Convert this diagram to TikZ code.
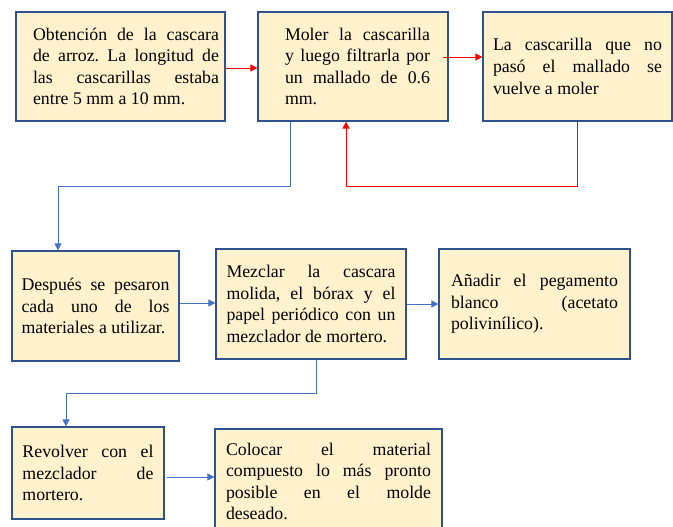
\documentclass[tikz,border=0pt]{standalone}
\usepackage{fontspec}
\setmainfont{Liberation Serif}
\usetikzlibrary{arrows.meta}

\definecolor{boxfill}{HTML}{FFF2CC}
\definecolor{boxline}{HTML}{2F528F}
\definecolor{flowblue}{HTML}{4472C4}
\definecolor{flowred}{HTML}{FF0000}

\tolerance=10000
\hyphenpenalty=10000
\frenchspacing

\tikzset{
  stepbox/.style={draw=boxline, fill=boxfill, line width=1.2pt, inner sep=0pt,
    align=justify, font=\fontsize{17.8}{21.6}\selectfont},
  redflow/.style={draw=flowred, line width=0.9pt, -{Triangle[length=7pt,width=7pt]}},
  blueflow/.style={draw=flowblue, line width=0.9pt, -{Triangle[length=7pt,width=7pt]}}
}

\begin{document}
\begin{tikzpicture}[x=1pt, y=-1pt]
        \clip (0,0) rectangle (673,527);

        % Draw top row
        \node[stepbox, minimum width=209pt, minimum height=109pt, text width=197pt] (obtener) at (120.5,66.5)
            {\leftskip=11pt Obtención de la cascara\linebreak de arroz. La longitud de\linebreak las cascarillas estaba\linebreak entre 5 mm a 10 mm.\par};
        \node[stepbox, minimum width=190pt, minimum height=109pt, text width=154pt] (moler) at (353,66.5)
            {\leftskip=9pt Moler la cascarilla\linebreak y luego filtrarla por\linebreak un mallado de 0.6\linebreak mm.\par};
        \node[stepbox, minimum width=189pt, minimum height=109pt, text width=169pt] (remoler) at (577.5,66.5)
            {La cascarilla que no\linebreak pasó el mallado se\linebreak vuelve a moler};

        % Draw middle row
        \node[stepbox, minimum width=167pt, minimum height=110pt, text width=148pt] (pesar) at (95.5,306)
            {Después se pesaron\linebreak cada uno de los\linebreak materiales a utilizar.};
        \node[stepbox, minimum width=190pt, minimum height=110pt, text width=169pt] (mezclar) at (311,304)
            {Mezclar la cascara\linebreak molida, el bórax y el\linebreak papel periódico con un\linebreak mezclador de mortero.};
        \node[stepbox, minimum width=191pt, minimum height=110pt, text width=167pt] (pegamento) at (534.5,304)
            {Añadir el pegamento\linebreak blanco (acetato\linebreak polivinílico).};

        % Draw bottom row
        \node[stepbox, minimum width=152pt, minimum height=92pt, text width=131pt] (revolver) at (88,473)
            {Revolver con el\linebreak mezclador de\linebreak mortero.};
        \node[stepbox, minimum width=227pt, minimum height=105pt, text width=205pt] (colocar) at (328.5,481.5)
            {Colocar el material\linebreak compuesto lo más pronto\linebreak posible en el molde\linebreak deseado.};

        % Red arrows
        \draw[redflow] ([yshift=-1.5pt]obtener.east) -- ([yshift=-1.5pt]moler.west);
        \draw[redflow] ([xshift=-6pt,yshift=9.5pt]moler.east) -- ([yshift=9.5pt]remoler.west);
        \draw[redflow] (remoler.south) -- ++(0,65) -| ([xshift=-7pt]moler.south);

        % Blue arrows
        \draw[blueflow] ([xshift=-63pt]moler.south) -- ++(0,65) -| ([xshift=-37.5pt]pesar.north);
        \draw[blueflow] ([yshift=3pt]pesar.east) -- ([yshift=3pt]pesar.east -| mezclar.west);
        \draw[blueflow] (mezclar.east) -- (pegamento.west);
        \draw[blueflow] ([xshift=5pt]mezclar.south) -- ++(0,34) -| ([xshift=-22pt]revolver.north);
        \draw[blueflow] ([xshift=2pt,yshift=-4pt]revolver.east) -- ([yshift=-4pt]revolver.east -| colocar.west);
\end{tikzpicture}
\end{document}
